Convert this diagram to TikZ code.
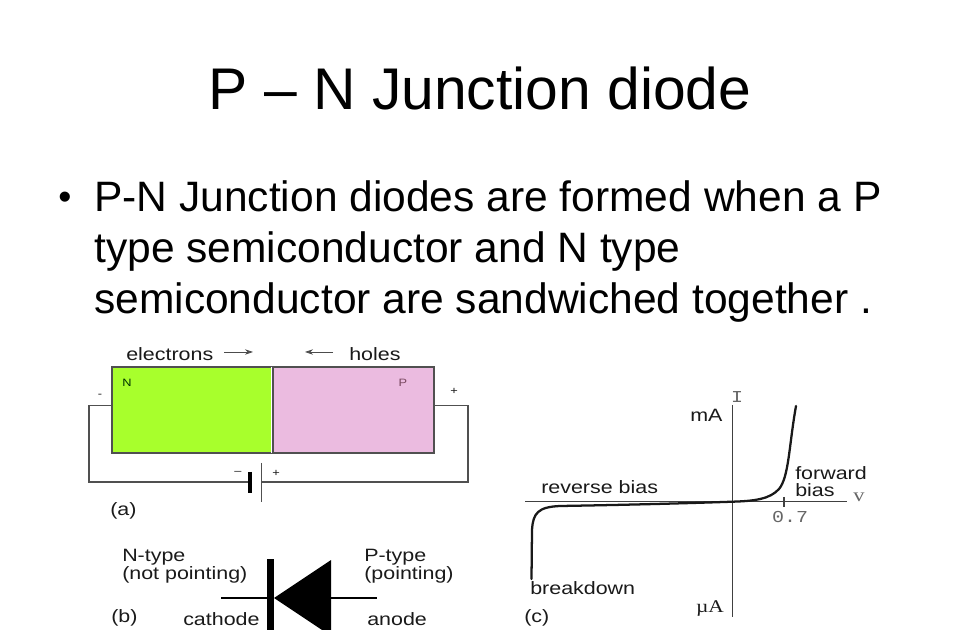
\documentclass[tikz,border=0pt]{standalone}
\usepackage{fontspec}
\setmainfont{Liberation Sans}
\newfontfamily\widex[FakeStretch=1.2]{Liberation Sans}
\newfontfamily\serifx[FakeStretch=1.2]{Liberation Serif}
\newfontfamily\monox[FakeStretch=1.2]{Liberation Mono}
\usetikzlibrary{arrows.meta}
\definecolor{ngreen}{HTML}{A8FF2C}
\definecolor{ppink}{HTML}{EBBBE0}
\definecolor{wire}{HTML}{505050}
\definecolor{inktxt}{HTML}{1A1A1A}
\newcommand{\fs}[1]{\fontsize{#1}{#1}\selectfont}
\tikzset{
  x=0.75pt,y=-0.75pt,
  lbl/.style={inner sep=0pt,text=inktxt,font=\widex\fs{13.4}},
  lab2/.style={lbl,align=left,anchor=north west},
  small/.style={inner sep=0pt,text=inktxt,font=\widex\fs{8}},
  mono/.style={inner sep=0pt,text=black!60,font=\monox\fs{12.5}},
  wireline/.style={draw=wire,line width=0.8pt},
  axisline/.style={draw=black!75,line width=0.8pt},
  smallarrow/.style={draw=black!70,line width=0.5pt,-{Stealth[length=6pt,width=4pt]}},
  block/.style={draw=wire,line width=1pt,minimum height=86*0.75pt,inner sep=0pt},
  bigtext/.style={inner sep=0pt,font=\fs{31.9},anchor=base west},
}
\begin{document}
\begin{tikzpicture}
\useasboundingbox (0,0) rectangle (960,630);
\fill[white] (0,0) rectangle (960,630);
\node[inner sep=0pt,font=\fs{44.1}] (title) at (480,88) {P – N Junction diode};
\node[bigtext,font=\fs{28}] (bullet) at (58,210) {•};
\node[bigtext] (l1) at (94,212) {P-N Junction diodes are formed when a P};
\node[bigtext] (l2) at (94,263) {type semiconductor and N type};
\node[bigtext] (l3) at (94,314) {semiconductor are sandwiched together .};
% panel a
\node[block,fill=ngreen,minimum width=161*0.75pt] (N) at (192.5,410) {};
\node[block,fill=ppink,minimum width=161*0.75pt] (P) at (353.5,410) {};
\draw[white,line width=1pt] ([xshift=-1.5pt,yshift=-0.5pt]N.north east) -- ([xshift=-1.5pt,yshift=0.5pt]N.south east);
\node[lbl,anchor=west] (electrons) at (126,354) {electrons};
\node[lbl,anchor=west] (holes) at (349,354) {holes};
\coordinate (ea) at (224,352); \coordinate (eb) at (253,352);
\coordinate (ha) at (333,352); \coordinate (hb) at (305,352);
\draw[smallarrow] (ea) -- (eb);
\draw[smallarrow] (ha) -- (hb);
\node[small,text=black!80!green] (Nl) at (127,383) {N};
\node[small,text=black!60!magenta] (Pl) at (403,383) {P};
\node[small] (minus) at (100,396) {-};
\node[small] (plus) at (454,391) {+};
\coordinate (nw) at (89,405.5); \coordinate (ne) at (468,405.5);
\coordinate (bl) at (89,482); \coordinate (br) at (468,482);
\coordinate (b1) at (250,482); \coordinate (b2) at (261.5,482);
\coordinate (b1t) at (250,472); \coordinate (b1b) at (250,493);
\coordinate (b2t) at (261.5,463); \coordinate (b2b) at (261.5,502);
\draw[wireline] (N.west |- nw) -- (nw) -- (bl) -- (b1);
\draw[wireline] (P.east |- ne) -- (ne) -- (br) -- (b2);
\draw[black,line width=3pt] (b1t) -- (b1b);
\draw[wire,line width=0.8pt] (b2t) -- (b2b);
\node[small] (bm) at (238,473) {–};
\node[small] (bp) at (276,473) {+};
\node[lbl,anchor=west] (a) at (110,510.5) {(a)};
% panel b
\node[lab2] (ntype) at (122,548.5) {N-type\\[0.5pt](not pointing)};
\node[lab2] (ptype) at (364,548.5) {P-type\\[0.5pt](pointing)};
\node[lbl,anchor=west] (b) at (111,618) {(b)};
\node[lbl,anchor=west] (cath) at (183,619) {cathode};
\node[lbl,anchor=west] (an) at (367,619) {anode};
\coordinate (dl) at (221,598); \coordinate (dr) at (377,598);
\coordinate (bart) at (270.5,559); \coordinate (barb) at (270.5,630);
\coordinate (tip) at (274,598); \coordinate (tt) at (331,560); \coordinate (tb) at (331,636);
\coordinate (tc) at (331,598);
\draw[black,line width=1pt] (dl) -- (bart |- dl);
\draw[black,line width=1pt] (tc) -- (dr);
\begin{scope}
\clip (0,0) rectangle (960,630);
\draw[black,line width=5pt] (bart) -- (barb);
\fill[black] (tip) -- (tt) -- (tb) -- cycle;
\end{scope}
% panel c
\coordinate (xl) at (525,501.7); \coordinate (xr) at (847,501.7);
\coordinate (yt) at (732.5,405); \coordinate (yb) at (732.5,617);
\coordinate (tk1) at (784,497); \coordinate (tk2) at (784,507);
\draw[axisline] (xl) -- (xr);
\draw[axisline] (yt) -- (yb);
\draw[axisline] (tk1) -- (tk2);
\coordinate (c0) at (531.5,579);
\coordinate (c1) at (732.5,501.7);
\coordinate (c2) at (796,406);
\draw[black!90,line width=1.7pt,line cap=round]
 (c0) -- (532,530) .. controls (533,513) and (538,507) .. (560,506)
 .. controls (620,505) and (680,503.5) .. (c1)
 .. controls (755,501) and (770,499) .. (779,489)
 .. controls (789,477) and (789,445) .. (c2);
\node[lbl,anchor=west] (rev) at (541,487) {reverse bias};
\node[lbl,anchor=west] (mA) at (690,415) {mA};
\node[mono] (I) at (737,397) {I};
\node[inner sep=0pt,text=black!60,font=\serifx\fs{14}] (V) at (859,497) {v};
\node[lab2] (fwd) at (795,466.5) {forward\\[-0.5pt]bias};
\node[mono] (v07) at (790,517) {0.7};
\node[lbl,anchor=west] (bd) at (530,588) {breakdown};
\node[inner sep=0pt,text=inktxt,font=\serifx\fs{13.4}] (uA) at (710,609) {µA};
\node[lbl,anchor=west] (c) at (524,618) {(c)};
\end{tikzpicture}
\end{document}
